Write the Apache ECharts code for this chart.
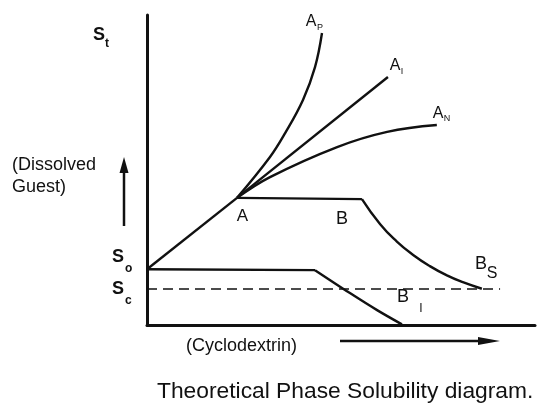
<!DOCTYPE html>
<html>
<head>
<meta charset="utf-8">
<script src="https://cdn.jsdelivr.net/npm/echarts@6/dist/echarts.min.js"></script>
<style>
html,body{margin:0;padding:0;background:#fff;}
#chart{width:538px;height:403px;}
</style>
</head>
<body>
<div id="chart"></div>
<script>
// Data (x = cyclodextrin concentration, y = dissolved guest; arbitrary units 0-100)
var riseToA   = [[0, 18], [23.2, 41]];
var curveAP   = [[23.2, 41], [31.7, 54.2], [35.6, 61.9], [40.2, 72.6], [43.3, 83.2], [45.1, 94.2]];
var lineAL    = [[23.2, 41], [62.1, 80]];
var curveAN   = [[23.2, 41], [31.7, 47.7], [49, 57.4], [61.9, 62.3], [74.7, 64.5]];
var plateauB  = [[23.2, 41], [55.4, 40.6]];
var curveBS   = [[55.4, 40.6], [60.1, 32.5], [64.4, 26.9], [68.6, 22.6], [72.9, 19.0], [77.3, 16.0], [81.4, 13.8], [86.3, 11.7]];
var plateauBI = [[0, 18], [43.3, 17.7]];
var curveBI   = [[43.3, 17.7], [52.3, 10.3], [59.3, 4.8], [65.7, 0.2]];
var scLine    = [[0, 11.6], [91, 11.6]];

var ink = '#111';
var chart = echarts.init(document.getElementById('chart'), null, {renderer: 'canvas'});

function ser(data, smooth, extra) {
  var s = {
    type: 'line', data: data, showSymbol: false, smooth: smooth, silent: true,
    lineStyle: {color: ink, width: 2.4}, animation: false
  };
  if (extra) for (var k in extra) s[k] = extra[k];
  return s;
}

function txt(x, y, t, size, weight, align) {
  return {
    type: 'text', x: x, y: y,
    style: {text: t, fill: ink, font: (weight || 'normal') + ' ' + size + 'px "Liberation Sans", Arial, sans-serif',
            textAlign: align || 'left', textVerticalAlign: 'middle'}
  };
}

var option = {
  animation: false,
  backgroundColor: '#fff',
  grid: {left: 147, right: 3, top: 15, bottom: 78},
  xAxis: {
    type: 'value', min: 0, max: 100,
    axisLine: {show: true, onZero: false, lineStyle: {color: ink, width: 3}},
    axisTick: {show: false}, axisLabel: {show: false}, splitLine: {show: false}
  },
  yAxis: {
    type: 'value', min: 0, max: 100,
    axisLine: {show: true, onZero: false, lineStyle: {color: ink, width: 3}},
    axisTick: {show: false}, axisLabel: {show: false}, splitLine: {show: false}
  },
  series: [
    ser(riseToA, false),
    ser(curveAP, 0.4),
    ser(lineAL, false),
    ser(curveAN, 0.4),
    ser(plateauB, false),
    ser(curveBS, 0.5),
    ser(plateauBI, false),
    ser(curveBI, 0.3),
    ser(scLine, false, {lineStyle: {color: ink, width: 1.6, type: [10, 6]}})
  ],
  graphic: [
    txt(93, 35, 'S', 18, 'bold'),
    txt(105, 44, 't', 12, 'bold'),
    txt(112, 257, 'S', 18, 'bold'),
    txt(125, 269, 'o', 12, 'bold'),
    txt(112, 289, 'S', 18, 'bold'),
    txt(125, 301, 'c', 12, 'bold'),
    txt(12, 165, '(Dissolved', 18),
    txt(12, 187, 'Guest)', 18),
    txt(242.5, 216, 'A', 17, 'normal', 'center'),
    txt(342, 219, 'B', 18, 'normal', 'center'),
    txt(481, 264, 'B', 18, 'normal', 'center'),
    txt(492, 274, 'S', 16, 'normal', 'center'),
    txt(403, 297, 'B', 18, 'normal', 'center'),
    txt(421, 309, 'I', 12, 'normal', 'center'),
    txt(311, 22, 'A', 16, 'normal', 'center'),
    txt(320, 28, 'P', 9, 'normal', 'center'),
    txt(395, 65.5, 'A', 16, 'normal', 'center'),
    txt(402, 72, 'I', 9, 'normal', 'center'),
    txt(438, 114, 'A', 16, 'normal', 'center'),
    txt(447, 119, 'N', 9, 'normal', 'center'),
    txt(186, 346, '(Cyclodextrin)', 18),
    txt(157, 392, 'Theoretical Phase Solubility diagram.', 22.8),
    // up arrow
    {type: 'line', shape: {x1: 124, y1: 226, x2: 124, y2: 168}, style: {stroke: ink, lineWidth: 2.5}},
    {type: 'polygon', shape: {points: [[124, 157], [119.5, 173], [128.5, 173]]}, style: {fill: ink}},
    // right arrow
    {type: 'line', shape: {x1: 340, y1: 341, x2: 484, y2: 341}, style: {stroke: ink, lineWidth: 2.5}},
    {type: 'polygon', shape: {points: [[500, 341], [478, 337], [478, 345]]}, style: {fill: ink}}
  ]
};
chart.setOption(option);
</script>
</body>
</html>
